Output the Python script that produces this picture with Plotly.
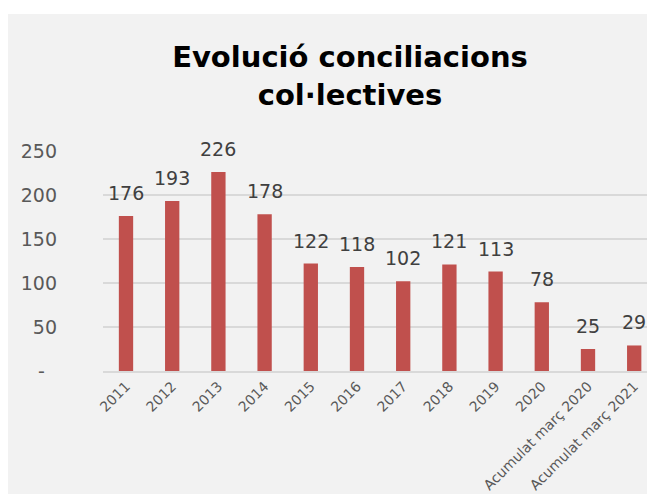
import plotly.graph_objects as go

# Dades
categories = ["2011", "2012", "2013", "2014", "2015", "2016", "2017", "2018",
              "2019", "2020", "Acumulat març 2020", "Acumulat març 2021"]
values = [176, 193, 226, 178, 122, 118, 102, 121, 113, 78, 25, 29]
y_ticks = [0, 50, 100, 150, 200, 250]
y_ticktext = ["-\u00a0\u00a0", "50", "100", "150", "200", "250"]

# la pàgina té un marge de 8 px: les posicions es resten d'aquest desplaçament
W, H = 639, 486
L, R, T, B = 95, 0, 142, 123
pw, ph = W - L - R, H - T - B
STEP = 46.2          # px per categoria
X0 = 118             # centre de la primera barra

BAR = "#C0504D"
GREY_TXT = "#595959"
FONT = "DejaVu Sans"

fig = go.Figure()
fig.add_trace(go.Bar(
    x=categories, y=values,
    marker=dict(color=BAR, line=dict(width=0)),
    width=0.31,
    hoverinfo="x+y",
))

# etiquetes de dades (x com a índex de categoria)
for i, v in enumerate(values):
    fig.add_annotation(x=i, y=v, text=str(v), showarrow=False,
                       yanchor="bottom", yshift=10,
                       font=dict(family=FONT, size=19, color="#404040"))

# fons gris del gràfic
fig.add_shape(type="rect", xref="paper", yref="paper", layer="below",
              x0=(0 - L) / pw, x1=1.05,
              y0=-(H - (T + ph)) / ph - 0.05, y1=(T + ph - 6) / ph,
              fillcolor="#F2F2F2", line=dict(width=0))

fig.update_layout(
    width=W, height=H,
    margin=dict(l=L, r=R, t=T, b=B, pad=0, autoexpand=False),
    paper_bgcolor="white",
    plot_bgcolor="rgba(0,0,0,0)",
    showlegend=False,
    title=dict(text="<b>Evolució conciliacions<br>col·lectives</b>",
               x=342 / W, xanchor="center", y=1 - 59 / H, yanchor="top",
               font=dict(family=FONT, size=29, color="black")),
    xaxis=dict(
        type="category", automargin=False,
        range=[-(X0 - L) / STEP, (W - X0) / STEP],
        tickangle=-45,
        tickfont=dict(family=FONT, size=14, color=GREY_TXT),
        showgrid=False, showline=True, linecolor="#D9D9D9", linewidth=1.5,
        ticks="", zeroline=False,
    ),
    yaxis=dict(
        range=[0, 251], automargin=False,
        tickvals=y_ticks, ticktext=y_ticktext,
        tickfont=dict(family=FONT, size=19, color=GREY_TXT),
        showgrid=True, gridcolor="#D9D9D9", gridwidth=1.5,
        zeroline=False, ticks="", ticklabelstandoff=45,
    ),
)

fig.write_html("out.html")
